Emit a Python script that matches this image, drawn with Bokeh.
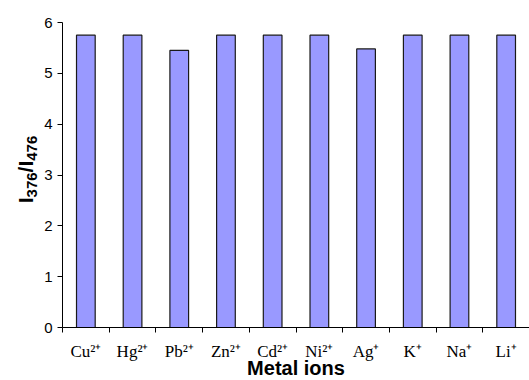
import math
from bokeh.plotting import figure
from bokeh.models import FixedTicker, Range1d, ColumnDataSource, Label
from bokeh.embed import file_html
from bokeh.resources import INLINE

# ---- data ----
ion_labels = ["Cu²⁺", "Hg²⁺", "Pb²⁺", "Zn²⁺", "Cd²⁺", "Ni²⁺", "Ag⁺", "K⁺", "Na⁺", "Li⁺"]
ratios = [5.75, 5.75, 5.45, 5.75, 5.75, 5.75, 5.48, 5.75, 5.75, 5.75]
y_ticks = [0, 1, 2, 3, 4, 5, 6]
x_title = "Metal ions"
y_title_parts = ["I", "376", "/I", "476"]

centers = [i + 0.5 for i in range(len(ion_labels))]
bounds = list(range(len(ion_labels) + 1))

p = figure(frame_width=467, frame_height=305, output_backend="svg", toolbar_location=None,
           x_range=Range1d(0, len(ion_labels)), y_range=Range1d(0, 6),
           min_border_left=62, min_border_right=0, min_border_top=22, min_border_bottom=0)
p.outline_line_color = None
p.grid.visible = False

src = ColumnDataSource(dict(x=centers, top=ratios))
p.vbar(x="x", top="top", width=0.4, bottom=0, source=src,
       fill_color="#9999FF", line_color="#1a1a1a", line_width=1.2)

xa = p.xaxis[0]
xa.ticker = FixedTicker(ticks=centers, minor_ticks=bounds)
xa.major_label_overrides = {c: l for c, l in zip(centers, ion_labels)}
xa.major_tick_line_color = None
xa.minor_tick_out = 5
xa.minor_tick_in = 0
xa.minor_tick_line_color = "black"
xa.axis_line_color = "black"
xa.major_label_text_font = "Liberation Serif"
xa.major_label_text_font_size = "17px"
xa.major_label_text_color = "black"
xa.major_label_standoff = 8
xa.axis_label = x_title
xa.axis_label_text_font = "Liberation Sans"
xa.axis_label_text_font_style = "bold"
xa.axis_label_text_font_size = "20px"
xa.axis_label_text_color = "black"
xa.axis_label_standoff = -7

ya = p.yaxis[0]
ya.ticker = FixedTicker(ticks=y_ticks, minor_ticks=[])
ya.major_tick_out = 5
ya.major_tick_in = 0
ya.major_label_text_font = "Liberation Sans"
ya.major_label_text_font_size = "15px"
ya.major_label_text_color = "black"
ya.major_label_standoff = 5

# y title with real subscripts, rotated; kept in a side panel so it is not clipped
MAIN_FS, SUB_FS = 21, 15
ARIAL_B = {"I": .278, "/": .278}
def aw(s, fs):
    return sum(ARIAL_B.get(c, .556) for c in s) * fs
sizes = [MAIN_FS, SUB_FS, MAIN_FS, SUB_FS]
widths = [aw(t, f) for t, f in zip(y_title_parts, sizes)]
pos = 158 - sum(widths) / 2  # px above frame bottom
for t, f, w in zip(y_title_parts, sizes, widths):
    is_sub = f == SUB_FS
    p.add_layout(Label(x=0, y=0, text=t, x_offset=-31 if is_sub else -37, y_offset=pos,
                       angle=math.pi / 2, text_align="left", text_baseline="alphabetic",
                       text_font="Liberation Sans", text_font_style="bold",
                       text_font_size=f"{f}px", text_color="black"), "right")
    pos += w

open("out.html", "w").write(file_html(p, INLINE))
